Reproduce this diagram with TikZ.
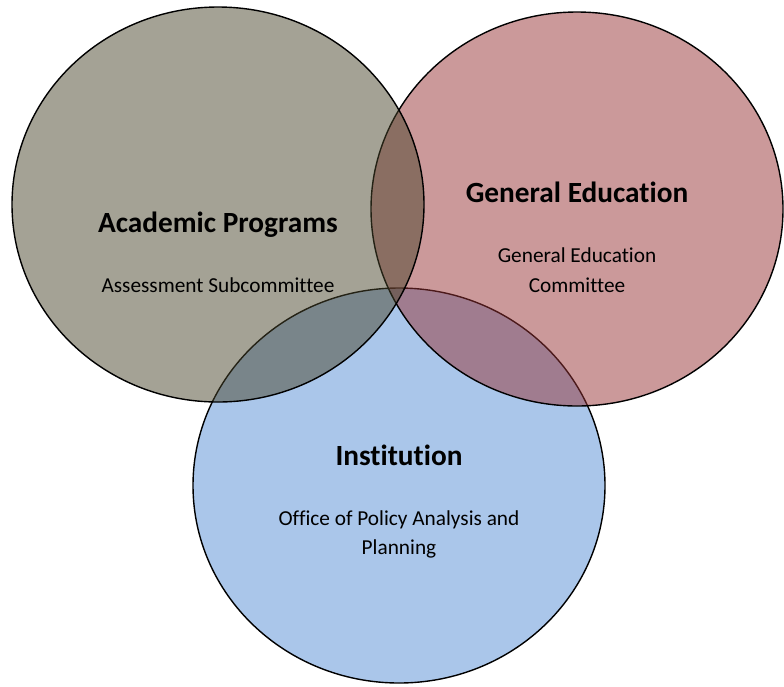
\documentclass[tikz,border=0pt]{standalone}
\usepackage{fontspec}
\setmainfont[Ligatures=NoCommon]{Carlito}
\definecolor{acad}{RGB}{73,69,43}
\definecolor{gened}{RGB}{151,51,53}
\definecolor{inst}{RGB}{170,198,234}
\begin{document}
\begin{tikzpicture}[x=1pt,y=-1pt,
  setshape/.style={draw=black,line width=1.4pt},
  title/.style={anchor=base,inner sep=0pt,font=\fontsize{29.3}{35}\selectfont\bfseries},
  sub/.style={anchor=base,inner sep=0pt,font=\fontsize{21.3}{29}\selectfont}]
\useasboundingbox (0,0) rectangle (784,686);
\draw[setshape,fill=inst] (399,485.5) ellipse [x radius=206,y radius=197.5];
\draw[setshape,fill=gened,fill opacity=0.5] (577,209) ellipse [x radius=206,y radius=197];
\draw[setshape,fill=acad,fill opacity=0.5] (218,204.5) ellipse [x radius=206,y radius=197.5];
\node[title] (t1) at (218,232) {Academic Programs};
\node[sub] (s1) at (218,292) {Assessment Subcommittee};
\node[title] (t2) at (577,202) {General Education};
\node[sub] (s2a) at (577,262) {General Education};
\node[sub] (s2b) at (577,292) {Committee};
\node[title] (t3) at (399,465) {Institution};
\node[sub] (s3a) at (399,525) {Office of Policy Analysis and};
\node[sub] (s3b) at (399,554) {Planning};
\end{tikzpicture}
\end{document}
